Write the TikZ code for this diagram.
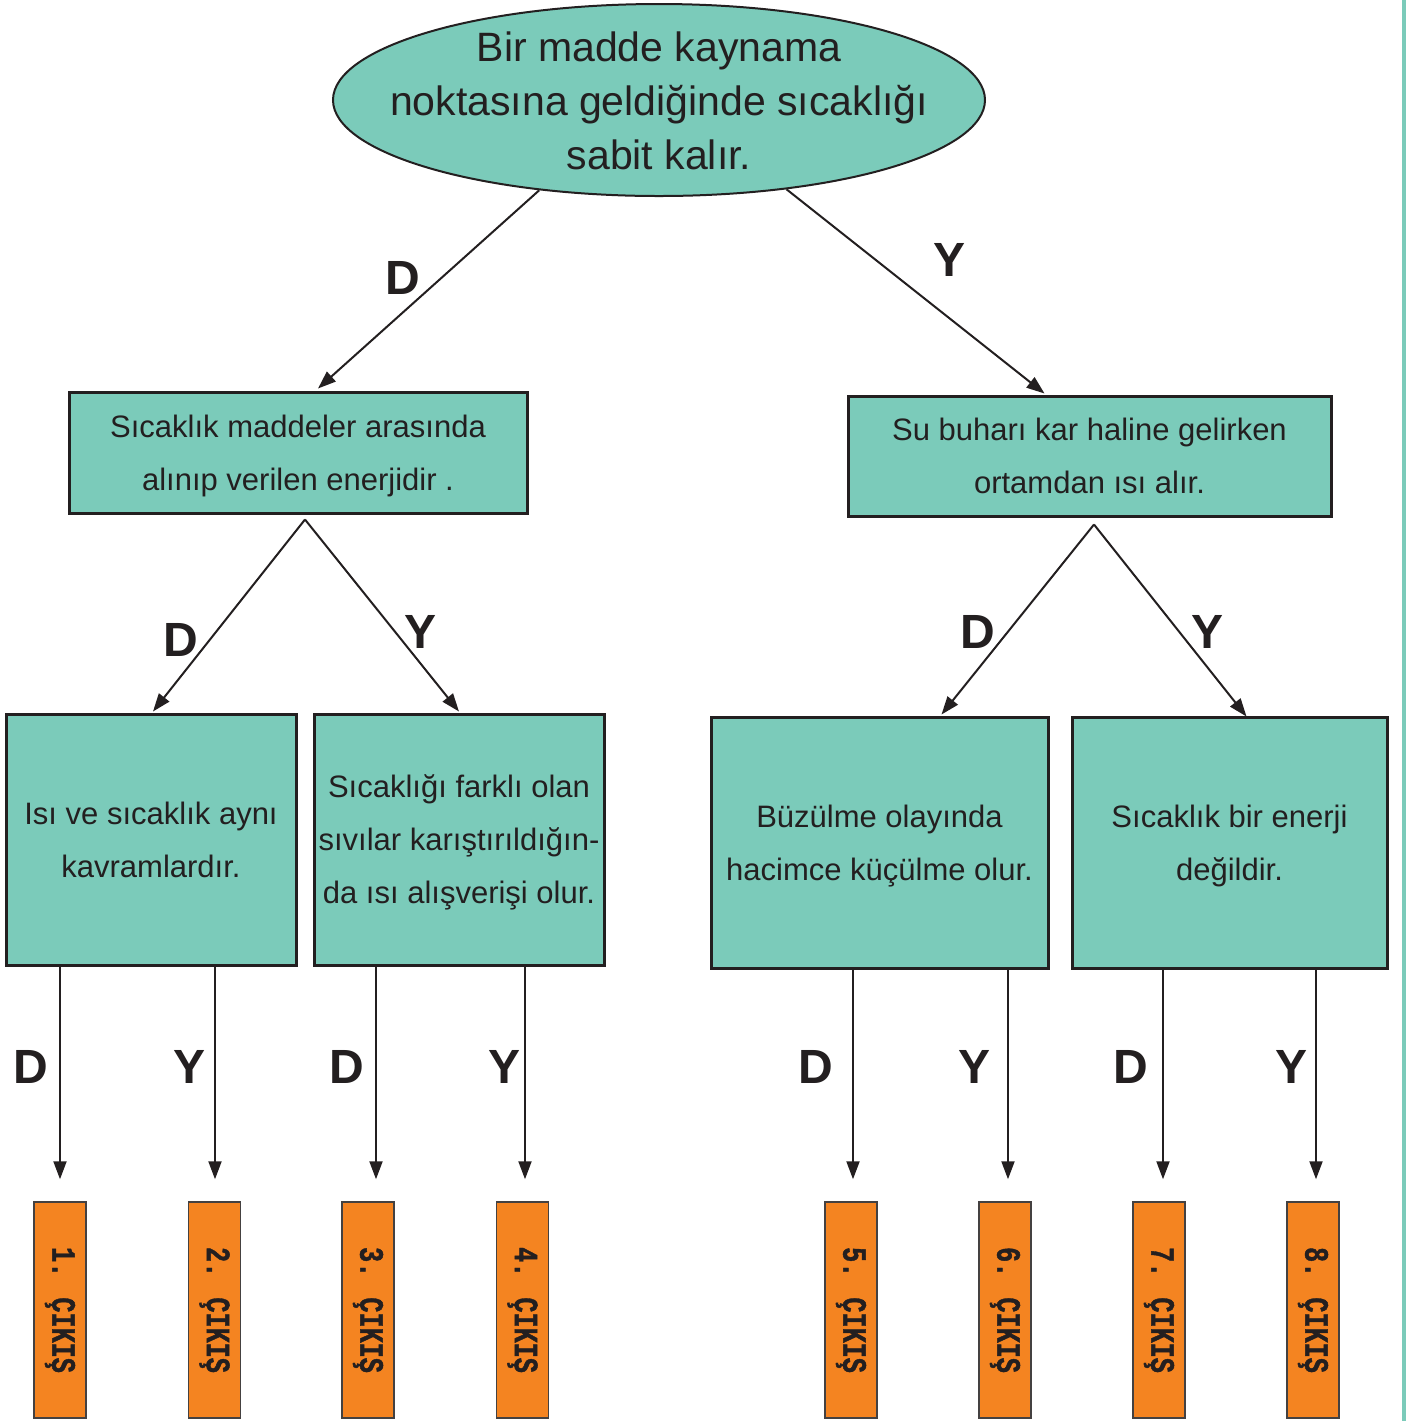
\documentclass[tikz,border=0pt]{standalone}
\usepackage{fontspec}
\setmainfont{Liberation Sans}
\newfontfamily\cikisfont{Liberation Mono}[BoldFeatures={FakeBold=1.5}]
\usetikzlibrary{arrows.meta, positioning, calc, shapes.geometric}
\definecolor{tealbox}{HTML}{7BCBBA}
\definecolor{cikis}{HTML}{F48421}
\definecolor{ink}{HTML}{231F20}

\begin{document}
\begin{tikzpicture}[x=0.5pt, y=-0.5pt,
        q/.style={ellipse, draw=ink, line width=1pt, fill=tealbox, inner sep=0pt,
                  minimum width=326pt, minimum height=96pt},
        qt/.style={align=center, inner sep=0pt, text=ink,
                  font=\fontsize{20.5}{27}\selectfont},
        s/.style={rectangle, draw=ink, line width=1.5pt, fill=tealbox, align=center,
                  inner sep=0pt, text depth=0pt, text=ink, font=\fontsize{15.5}{26.5}\selectfont},
        exitbox/.style={rectangle, draw=ink!85, line width=0.75pt, fill=cikis,
                  minimum width=26pt, minimum height=108pt, inner sep=0pt, text=ink,
                  font=\cikisfont\bfseries\fontsize{17}{17}\selectfont},
        lbl/.style={inner sep=0pt, text=ink, font=\fontsize{24}{24}\selectfont\bfseries},
        arr/.style={-{Triangle[length=9pt,width=6.5pt]}, line width=1pt, ink}]
      \useasboundingbox (0,0) rectangle (1406,1421);
      \fill[tealbox] (1402,0) rectangle (1406,1421);

      % question at the top
      \node[q] (top) at (659,100) {};
      \node[qt] (toptext) at (659,101) {Bir madde kaynama\\ noktasına geldiğinde sıcaklığı\\ sabit kalır.};

      % second level
      \node[s, minimum width=229pt, minimum height=60.5pt] (B1) at (298,452.5)
            {Sıcaklık maddeler arasında\\ alınıp verilen enerjidir .};
      \node[s, minimum width=241.5pt, minimum height=60pt] (B2) at (1089.5,456)
            {Su buharı kar haline gelirken\\ ortamdan ısı alır.};

      % third level
      \node[s, minimum width=145pt, minimum height=125.5pt] (L1) at (151,839.5)
            {Isı ve sıcaklık aynı\\ kavramlardır.};
      \node[s, minimum width=145pt, minimum height=125.5pt] (L2) at (459,839.5)
            {Sıcaklığı farklı olan\\ sıvılar karıştırıldığın-\\ da ısı alışverişi olur.};
      \node[s, minimum width=168.5pt, minimum height=125.5pt] (L3) at (879.5,842.5)
            {Büzülme olayında\\ hacimce küçülme olur.};
      \node[s, minimum width=157.5pt, minimum height=125.5pt] (L4) at (1229.5,842.5)
            {Sıcaklık bir enerji\\ değildir.};

      % exits
      \foreach \x [count=\i] in {60,214.5,368,522.5,851,1005,1159,1313}
        \node[exitbox] (o\i) at (\x,1310) {\rotatebox{-90}{\scalebox{0.74}[1]{\i. ÇIKIŞ}}};

      \coordinate (b1tip) at ($(B1.south)+(7,5)$);
      \coordinate (b2tip) at ($(B2.south)+(4.5,7)$);

      \draw[arr] (top.217) -- ($(B1.north)+(20,-2)$);
      \draw[arr] (top.-35) -- ($(B2.north)+(-45,-1)$);
      \draw[arr] (b1tip) -- ($(L1.north)+(2,-1)$);
      \draw[arr] (b1tip) -- ($(L2.north)+(0,-1)$);
      \draw[arr] (b2tip) -- ($(L3.north)+(62,-1)$);
      \draw[arr] (b2tip) -- ($(L4.north)+(17,1)$);

      \foreach \src/\i/\dx in {L1/1/0,L1/2/0.5,L2/3/8,L2/4/2.5,L3/5/2,L3/6/3,L4/7/4,L4/8/3}
        \draw[arr] ($(\src.south -| o\i)+(\dx,0)$) -- ($(o\i.north)+(\dx,-22)$);

      % D / Y labels
      \node[lbl] (d0) at (403,278) {D};
      \node[lbl] (y0) at (950,260) {Y};
      \node[lbl] (d1) at (181,640) {D};
      \node[lbl] (y1) at (421,632) {Y};
      \node[lbl] (d2) at (978,632) {D};
      \node[lbl] (y2) at (1208,632) {Y};
      \foreach \x/\t [count=\i] in {31/D,190/Y,347/D,505/Y,816/D,975/Y,1131/D,1291/Y}
        \node[lbl] (e\i) at (\x,1067) {\t};
    \end{tikzpicture}
\end{document}
